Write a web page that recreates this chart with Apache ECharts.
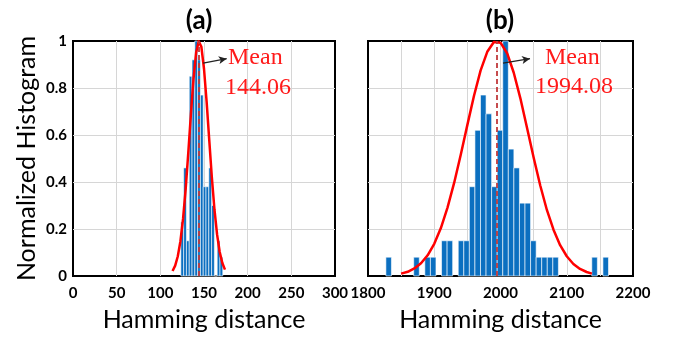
<!DOCTYPE html>
<html>
<head>
<meta charset="utf-8">
<script src="https://cdn.jsdelivr.net/npm/echarts@6/dist/echarts.min.js"></script>
<style>
  html, body { margin: 0; padding: 0; background: #fff; }
  #chart { width: 683px; height: 337px; }
</style>
</head>
<body>
<div id="chart"></div>
<script>
// panel (a): histogram bins (left edge) + normalized height
const binWidthA = 3.2;
const binStartA = [123.5, 126.7, 129.9, 133.1, 136.3, 139.5, 142.7, 145.9, 149.1, 152.3, 155.5, 158.7, 161.9, 165.1, 168.3];
const binHeightA = [0.23, 0.46, 0.15, 0.85, 0.92, 1.0, 0.92, 0.77, 0.38, 0.38, 0.46, 0.30, 0, 0.15, 0.08];
// fitted normal curve
const fitXA = [114, 117, 120, 123, 126, 129, 132, 135, 138, 141, 144, 147, 150, 153, 156, 159, 162, 165, 168, 171, 174];
const fitYA = [0.021, 0.044, 0.084, 0.148, 0.243, 0.37, 0.524, 0.689, 0.84, 0.951, 0.999, 0.975, 0.882, 0.742, 0.579, 0.419, 0.282, 0.176, 0.102, 0.055, 0.027];
const meanA = 144.06;

// panel (b)
const binWidthB = 8.4;
const binStartB = [1827.0, 1869.0, 1885.8, 1894.2, 1911.0, 1919.4, 1936.2, 1944.6, 1953.0, 1961.4,
  1969.8, 1978.2, 1986.6, 1995.0, 2003.4, 2011.8, 2020.2, 2028.6, 2037.0, 2045.4,
  2053.8, 2062.2, 2070.6, 2079.0, 2137.8, 2154.6];
const binHeightB = [0.08, 0.08, 0.08, 0.08, 0.15, 0.15, 0.15, 0.15, 0.38, 0.62,
  0.77, 0.69, 0.38, 0.62, 1.0, 0.54, 0.46, 0.31, 0.31, 0.15,
  0.08, 0.08, 0.08, 0.08, 0.08, 0.08];
const fitXB = [1850, 1860, 1870, 1880, 1890, 1900, 1910, 1920, 1930, 1940, 1950, 1960, 1970, 1980, 1990,
  2000, 2010, 2020, 2030, 2040, 2050, 2060, 2070, 2080, 2090, 2100, 2110, 2120, 2130, 2138];
const fitYB = [0.01, 0.018, 0.032, 0.054, 0.088, 0.137, 0.204, 0.291, 0.396, 0.516, 0.643, 0.767, 0.875, 0.954, 0.996,
  0.993, 0.948, 0.865, 0.756, 0.631, 0.504, 0.385, 0.281, 0.197, 0.131, 0.084, 0.051, 0.03, 0.017, 0.01];
const meanB = 1994.08;

// arrow endpoints (data coords) pointing at the mean label
const arrowA = [[149, 0.906], [176, 0.925]];
const arrowB = [[2003.8, 0.906], [2044.5, 0.925]];

const chart = echarts.init(document.getElementById("chart"), null, { renderer: "canvas" });

function histSeries(idx, starts, heights, w) {
  return {
    type: "custom",
    xAxisIndex: idx,
    yAxisIndex: idx,
    data: starts.map((s, i) => [s, heights[i]]),
    renderItem: (params, api) => {
      const p0 = api.coord([api.value(0), api.value(1)]);
      const p1 = api.coord([api.value(0) + w, 0]);
      return {
        type: "rect",
        shape: { x: p0[0], y: p0[1], width: p1[0] - p0[0], height: p1[1] - p0[1] },
        style: { fill: "#0b6fc0", stroke: "#ffffff", lineWidth: 0.6 },
      };
    },
    z: 2,
  };
}

function fitSeries(idx, xs, ys, mean, arrow) {
  return {
    type: "line",
    xAxisIndex: idx,
    yAxisIndex: idx,
    data: xs.map((x, i) => [x, ys[i]]),
    smooth: false,
    showSymbol: false,
    lineStyle: { color: "#ff0000", width: 2.5, join: "round" },
    z: 4,
    markLine: {
      silent: true,
      animation: false,
      label: { show: false },
      data: [
        [
          { coord: [mean, 0], symbol: "none", lineStyle: { color: "#c0393b", type: [5, 3], width: 1.8, curveness: 0 } },
          { coord: [mean, 1], symbol: "none" },
        ],
        [
          { coord: arrow[0], symbol: "none", lineStyle: { color: "#222", type: "solid", width: 1.3, curveness: -0.15 } },
          { coord: arrow[1], symbol: "arrow", symbolSize: [6, 8] },
        ],
      ],
    },
  };
}

const tickFont = { fontFamily: "Lato", fontWeight: "bold", fontSize: 15, color: "#000" };
const nameFont = { fontFamily: "Lato", fontSize: 25, color: "#000" };
const split = { show: true, showMinLine: false, showMaxLine: false, lineStyle: { color: "#d6d6d6", width: 1 } };

const option = {
  animation: false,
  grid: [
    { left: 73, top: 41, width: 262, height: 236, show: true, borderColor: "#000", borderWidth: 2, backgroundColor: "transparent" },
    { left: 368, top: 41, width: 265, height: 236, show: true, borderColor: "#000", borderWidth: 2, backgroundColor: "transparent" },
  ],
  xAxis: [
    {
      gridIndex: 0, type: "value", min: 0, max: 300, interval: 50,
      axisLine: { show: false }, axisTick: { show: false },
      axisLabel: Object.assign({ margin: 10 }, tickFont),
      splitLine: split,
      name: "Hamming distance", nameLocation: "middle", nameGap: 31, nameTextStyle: nameFont,
    },
    {
      gridIndex: 1, type: "value", min: 1800, max: 2200, interval: 50,
      axisLine: { show: false }, axisTick: { show: false },
      axisLabel: Object.assign({ margin: 10, formatter: (v) => (v % 100 === 0 ? String(v) : "") }, tickFont),
      splitLine: split,
      name: "Hamming distance", nameLocation: "middle", nameGap: 31, nameTextStyle: nameFont,
    },
  ],
  yAxis: [
    {
      gridIndex: 0, type: "value", min: 0, max: 1, interval: 0.2,
      axisLine: { show: false }, axisTick: { show: false },
      axisLabel: Object.assign({ margin: 6 }, tickFont),
      splitLine: split,
      name: "Normalized Histogram", nameLocation: "middle", nameGap: 34, nameTextStyle: nameFont,
    },
    {
      gridIndex: 1, type: "value", min: 0, max: 1, interval: 0.2,
      axisLine: { show: false }, axisTick: { show: false },
      axisLabel: { show: false },
      splitLine: split,
    },
  ],
  graphic: [
    { type: "text", x: 199, y: 21, style: { text: "(a)", font: "bold 26px Lato", fill: "#000", align: "center", verticalAlign: "middle" } },
    { type: "text", x: 500, y: 21, style: { text: "(b)", font: "bold 26px Lato", fill: "#000", align: "center", verticalAlign: "middle" } },
    { type: "text", x: 228, y: 58, z: 10, style: { text: "Mean", font: "24px 'Liberation Serif'", fill: "#ff1a1a", verticalAlign: "middle" } },
    { type: "text", x: 225, y: 88, z: 10, style: { text: "144.06", font: "24px 'Liberation Serif'", fill: "#ff1a1a", verticalAlign: "middle" } },
    { type: "text", x: 545, y: 58, z: 10, style: { text: "Mean", font: "24px 'Liberation Serif'", fill: "#ff1a1a", verticalAlign: "middle" } },
    { type: "text", x: 535, y: 87, z: 10, style: { text: "1994.08", font: "24px 'Liberation Serif'", fill: "#ff1a1a", verticalAlign: "middle" } },
  ],
  series: [
    histSeries(0, binStartA, binHeightA, binWidthA),
    fitSeries(0, fitXA, fitYA, meanA, arrowA),
    histSeries(1, binStartB, binHeightB, binWidthB),
    fitSeries(1, fitXB, fitYB, meanB, arrowB),
  ],
};

chart.setOption(option);
</script>
</body>
</html>
